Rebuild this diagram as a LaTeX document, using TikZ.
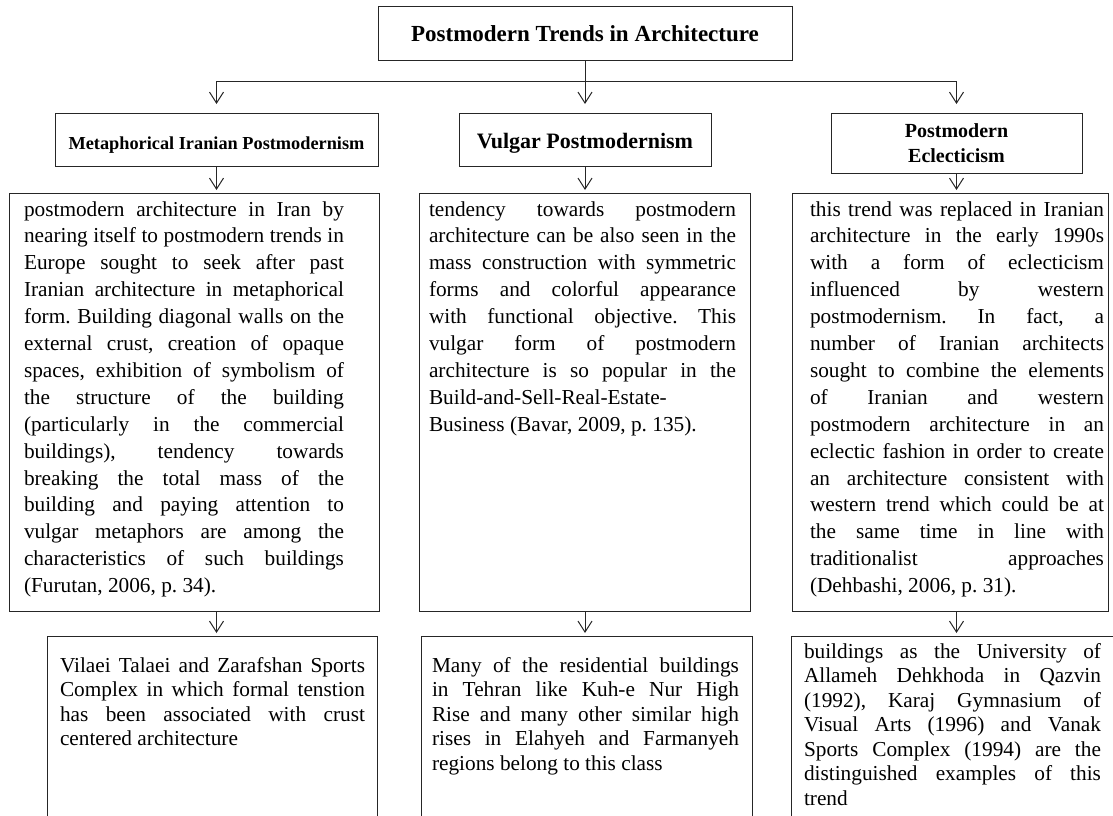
\documentclass[tikz,border=0pt]{standalone}
\usepackage{fontspec}
\setmainfont{Liberation Serif}
\usetikzlibrary{arrows.meta}

% justified paragraph with hand-set line ends, first baseline at the node's base
\newcommand\textcol[2]{\parbox[t]{#1}{\hyphenpenalty=10000 \exhyphenpenalty=10000
  \tolerance=10000 \hbadness=10000 \frenchspacing #2}}

\begin{document}
\begin{tikzpicture}[x=1pt,y=-1pt,
  frame/.style={draw=black!85, line width=1pt, inner sep=0pt, outer sep=0pt, anchor=north west},
  link/.style={draw=black!85, line width=1pt},
  arr/.style={link, -{Straight Barb[length=11pt,width=14pt,line width=1pt]}},
  body/.style={anchor=base west, inner sep=0pt, outer sep=0pt, font=\fontsize{21.3}{26.9}\selectfont},
  lowbody/.style={body, font=\fontsize{21.3}{24.5}\selectfont}]

\useasboundingbox (0,0) rectangle (1113,816);

% title
\node[frame, anchor=center, minimum width=414, minimum height=54,
      font=\bfseries\fontsize{23}{27}\selectfont] (top) at (585,34) {Postmodern Trends in Architecture};

% trend headings
\node[frame, minimum width=323, minimum height=53, text height=24, text depth=4,
      font=\bfseries\fontsize{18.3}{22}\selectfont] (m1) at (55,113) {Metaphorical Iranian Postmodernism};
\node[frame, minimum width=252, minimum height=53, text height=23, text depth=6,
      font=\bfseries\fontsize{22}{26}\selectfont] (m2) at (459,113) {Vulgar Postmodernism};
\node[frame, minimum width=251, minimum height=60, align=center,
      font=\bfseries\fontsize{20}{25}\selectfont] (m3) at (831,113) {Postmodern\\Eclecticism};

% description boxes
\node[frame, minimum width=370, minimum height=418] (tA) at (9,193) {};
\node[frame, minimum width=331, minimum height=418] (tB) at (419,193) {};
\node[frame, minimum width=316, minimum height=418] (tC) at (792,193) {};

% example boxes (run past the lower edge)
\node[frame, minimum width=330, minimum height=220] (bA) at (47.5,636) {};
\node[frame, minimum width=331, minimum height=220] (bB) at (421,636) {};
\node[frame, minimum width=340, minimum height=220] (bC) at (791,636) {};

% texts of the description boxes
\node[body] (xA) at ([shift={(15,23)}]tA.north west) {\textcol{320pt}{%
postmodern architecture in Iran by\linebreak
nearing itself to postmodern trends in\linebreak
Europe sought to seek after past\linebreak
Iranian architecture in metaphorical\linebreak
form. Building diagonal walls on the\linebreak
external crust, creation of opaque\linebreak
spaces, exhibition of symbolism of\linebreak
the structure of the building\linebreak
(particularly in the commercial\linebreak
buildings), tendency towards\linebreak
breaking the total mass of the\linebreak
building and paying attention to\linebreak
vulgar metaphors are among the\linebreak
characteristics of such buildings\linebreak
(Furutan, 2006, p.~34).}};

\node[body] (xB) at ([shift={(10,23)}]tB.north west) {\textcol{307pt}{%
tendency towards postmodern\linebreak
architecture can be also seen in the\linebreak
mass construction with symmetric\linebreak
forms and colorful appearance\linebreak
with functional objective. This\linebreak
vulgar form of postmodern\linebreak
architecture is so popular in the\linebreak
Build-and-Sell-Real-Estate-\linebreak
Business (Bavar, 2009, p.~135).}};

\node[body] (xC) at ([shift={(18,23)}]tC.north west) {\textcol{294pt}{%
this trend was replaced in Iranian\linebreak
architecture in the early 1990s\linebreak
with a form of eclecticism\linebreak
influenced by western\linebreak
postmodernism. In fact, a\linebreak
number of Iranian architects\linebreak
sought to combine the elements\linebreak
of Iranian and western\linebreak
postmodern architecture in an\linebreak
eclectic fashion in order to create\linebreak
an architecture consistent with\linebreak
western trend which could be at\linebreak
the same time in line with\linebreak
traditionalist approaches\linebreak
(Dehbashi, 2006, p.~31).}};

% texts of the example boxes
\node[lowbody] (yA) at ([shift={(12.5,36)}]bA.north west) {\textcol{305pt}{%
Vilaei Talaei and Zarafshan Sports\linebreak
Complex in which formal tenstion\linebreak
has been associated with crust\linebreak
centered architecture}};

\node[lowbody] (yB) at ([shift={(11,36)}]bB.north west) {\textcol{307pt}{%
Many of the residential buildings\linebreak
in Tehran like Kuh-e Nur High\linebreak
Rise and many other similar high\linebreak
rises in Elahyeh and Farmanyeh\linebreak
regions belong to this class}};

\node[lowbody] (yC) at ([shift={(13,22)}]bC.north west) {\textcol{297pt}{%
buildings as the University of\linebreak
Allameh Dehkhoda in Qazvin\linebreak
(1992), Karaj Gymnasium of\linebreak
Visual Arts (1996) and Vanak\linebreak
Sports Complex (1994) are the\linebreak
distinguished examples of this\linebreak
trend}};

% distribution bus under the title
\coordinate (busL) at (m1.north |- 0,81);
\coordinate (busM) at (m2.north |- 0,81);
\coordinate (busR) at (m3.north |- 0,81);
\draw[link] (top.south) -- (busM);
\draw[link] (busL) -- (busR);
\draw[arr, shorten >=9pt] (busL) -- (m1.north);
\draw[arr, shorten >=9pt] (busM) -- (m2.north);
\draw[arr, shorten >=9pt] (busR) -- (m3.north);

% heading -> description
\draw[arr, shorten >=3pt] (m1.south) -- (m1.south |- tA.north);
\draw[arr, shorten >=3pt] (m2.south) -- (m2.south |- tB.north);
\draw[arr, shorten >=3pt] (m3.south) -- (m3.south |- tC.north);

% description -> examples
\draw[arr, shorten >=3pt] (m1.south |- tA.south) -- (m1.south |- bA.north);
\draw[arr, shorten >=3pt] (m2.south |- tB.south) -- (m2.south |- bB.north);
\draw[arr, shorten >=3pt] (m3.south |- tC.south) -- (m3.south |- bC.north);
\end{tikzpicture}
\end{document}
